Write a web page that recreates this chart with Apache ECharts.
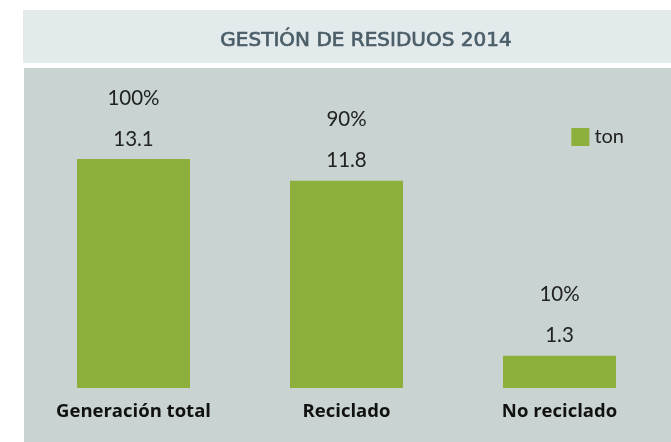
<!DOCTYPE html>
<html>
<head>
<meta charset="utf-8">
<script src="https://cdn.jsdelivr.net/npm/echarts@6/dist/echarts.min.js"></script>
<style>html,body{margin:0;padding:0;background:#fff;}#c{width:671px;height:442px;}</style>
</head>
<body>
<div id="c"></div>
<script>
const titleText = 'GESTIÓN DE RESIDUOS 2014';
const categories = ['Generación total', 'Reciclado', 'No reciclado'];
const tonValues = [13.1, 11.8, 1.3];
const percentLabels = ['100%', '90%', '10%'];
const seriesName = 'ton';

const chart = echarts.init(document.getElementById('c'));
chart.setOption({
  animation: false,
  backgroundColor: '#ffffff',
  graphic: [
    { type: 'rect', z: -10, shape: { x: 23, y: 10, width: 648, height: 53 }, style: { fill: '#e3eaec' } },
    { type: 'rect', z: -10, shape: { x: 24, y: 68, width: 647, height: 374 }, style: { fill: '#c9d3d2' } }
  ],
  title: {
    text: titleText,
    left: 361, top: 26, textAlign: 'center',
    textStyle: { fontFamily: 'DejaVu Sans', fontWeight: 'normal', fontSize: 20, color: '#4b5e68',
      textBorderColor: '#4b5e68', textBorderWidth: 0.7 }
  },
  legend: {
    data: [seriesName],
    right: 42, top: 122,
    itemWidth: 18, itemHeight: 18, itemGap: 8,
    icon: 'rect',
    textStyle: { fontFamily: 'Lato', fontSize: 20, color: '#222' }
  },
  grid: { left: 27, right: 5, top: 144, bottom: 54 },
  xAxis: {
    type: 'category', data: categories,
    axisLine: { show: false }, axisTick: { show: false },
    axisLabel: { fontFamily: 'Open Sans', fontWeight: 'bold', fontSize: 18.5, color: '#111', margin: 14 }
  },
  yAxis: { type: 'value', min: -0.63, max: 14, startValue: -0.63, show: false, splitLine: { show: false } },
  series: [{
    name: seriesName, type: 'bar', data: tonValues, barWidth: 113,
    itemStyle: { color: '#8db03c' },
    label: {
      show: true, position: 'top', distance: 8,
      formatter: p => '{p|' + percentLabels[p.dataIndex] + '}\n{v|' + p.value + '}',
      rich: {
        p: { fontFamily: 'Lato', fontSize: 20.5, color: '#222', lineHeight: 58 },
        v: { fontFamily: 'Lato', fontSize: 20.5, color: '#222', lineHeight: 24 }
      }
    }
  }]
});
</script>
</body>
</html>
